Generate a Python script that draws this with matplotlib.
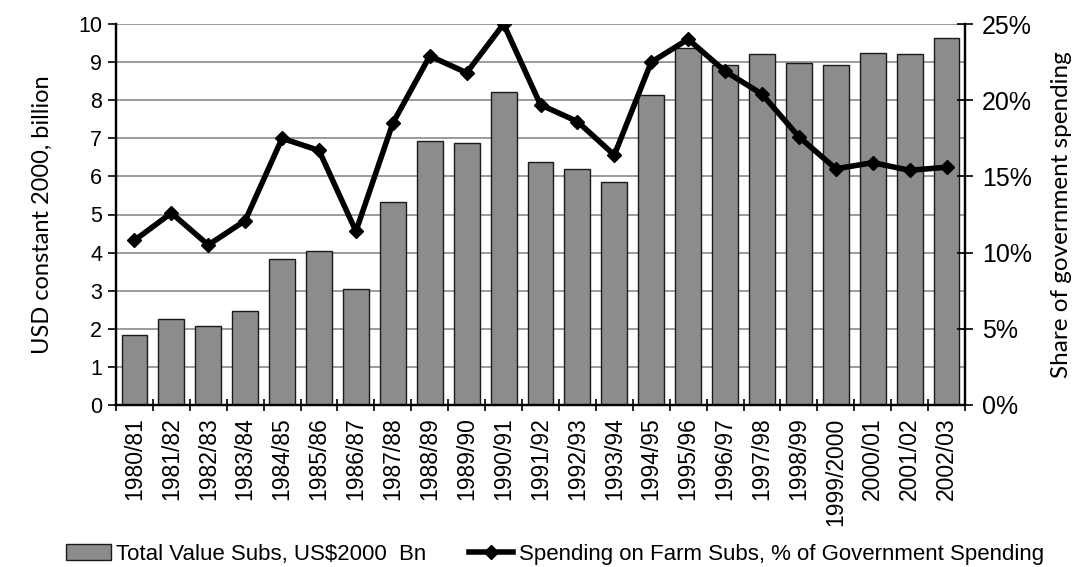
import matplotlib
matplotlib.use("Agg")
import matplotlib.pyplot as plt
from matplotlib.ticker import FuncFormatter, MultipleLocator, FixedLocator
from matplotlib.lines import Line2D
from matplotlib.patches import Patch
import numpy as np

years = ["1980/81", "1981/82", "1982/83", "1983/84", "1984/85", "1985/86", "1986/87",
         "1987/88", "1988/89", "1989/90", "1990/91", "1991/92", "1992/93", "1993/94",
         "1994/95", "1995/96", "1996/97", "1997/98", "1998/99", "1999/2000", "2000/01",
         "2001/02", "2002/03"]
total_value = [1.85, 2.25, 2.07, 2.47, 3.83, 4.05, 3.05, 5.32, 6.92, 6.87, 8.22, 6.38,
               6.20, 5.85, 8.13, 9.38, 8.93, 9.20, 8.97, 8.93, 9.25, 9.20, 9.63]
share_pct = [10.8, 12.6, 10.5, 12.1, 17.5, 16.7, 11.4, 18.5, 22.9, 21.8, 25.0, 19.7,
             18.6, 16.4, 22.5, 24.0, 21.9, 20.4, 17.6, 15.5, 15.9, 15.4, 15.6]

plt.rcParams['font.family'] = ['Liberation Sans', 'DejaVu Sans']

fig = plt.figure(figsize=(10.8, 5.67), dpi=100)
ax = fig.add_axes([116/1080, 1-405/567, (965-116)/1080, (405-24)/567])
ax2 = ax.twinx()

x = np.arange(len(years))
ax.bar(x, total_value, width=0.7, color="#8c8c8c", edgecolor="#1a1a1a", linewidth=1.0, zorder=2)
ax.set_xlim(-0.5, len(years)-0.5)
ax.set_ylim(0, 10)
ax.yaxis.set_major_locator(MultipleLocator(1))
ax.grid(axis='y', color="#8a8a8a", linewidth=1.2, zorder=0)
ax.set_axisbelow(True)

ax.set_xticks(x)
ax.set_xticklabels(years, rotation=90, fontsize=16.5)
ax.tick_params(axis='x', which='major', length=0, pad=9)
ax.xaxis.set_minor_locator(FixedLocator(np.arange(-0.5, len(years), 1.0)))
ax.tick_params(axis='x', which='minor', length=9, width=1.2, direction='inout')
ax.tick_params(axis='y', labelsize=15.5, length=6, width=1.2, direction='out', pad=4)

for s in ['top']:
    ax.spines[s].set_visible(False)
    ax2.spines[s].set_visible(False)
for s in ['left', 'bottom', 'right']:
    ax.spines[s].set_linewidth(1.6)
    ax2.spines[s].set_linewidth(1.6)

ax2.plot(x, share_pct, color="black", linewidth=4, marker='D', markersize=7, zorder=3)
ax2.set_ylim(0, 25)
ax2.yaxis.set_major_locator(MultipleLocator(5))
ax2.yaxis.set_major_formatter(FuncFormatter(lambda v, p: f"{int(v)}%"))
ax2.tick_params(axis='y', labelsize=18, length=12, width=1.2, direction='inout', pad=6)

ax.set_ylabel("USD constant 2000, billion", fontsize=17, family=['Lato', 'DejaVu Sans'], labelpad=18)
ax2.set_ylabel("Share of government spending", fontsize=17.5, family=['Lato', 'DejaVu Sans'], labelpad=14)

handles = [Patch(facecolor="#8c8c8c", edgecolor="#1a1a1a", linewidth=1.0),
           Line2D([0], [0], color="black", linewidth=4, marker='D', markersize=7)]
labels = ["Total Value Subs, US$2000  Bn", "Spending on Farm Subs, % of Government Spending"]
fig.legend(handles, labels, loc='center', bbox_to_anchor=(0.514, 0.022), ncol=2,
           frameon=False, prop={'family': ['Liberation Sans', 'DejaVu Sans'], 'size': 16},
           handlelength=2.0, handletextpad=0.25, columnspacing=1.9,
           borderpad=0, borderaxespad=0)

fig.savefig("out.png", dpi=100)
